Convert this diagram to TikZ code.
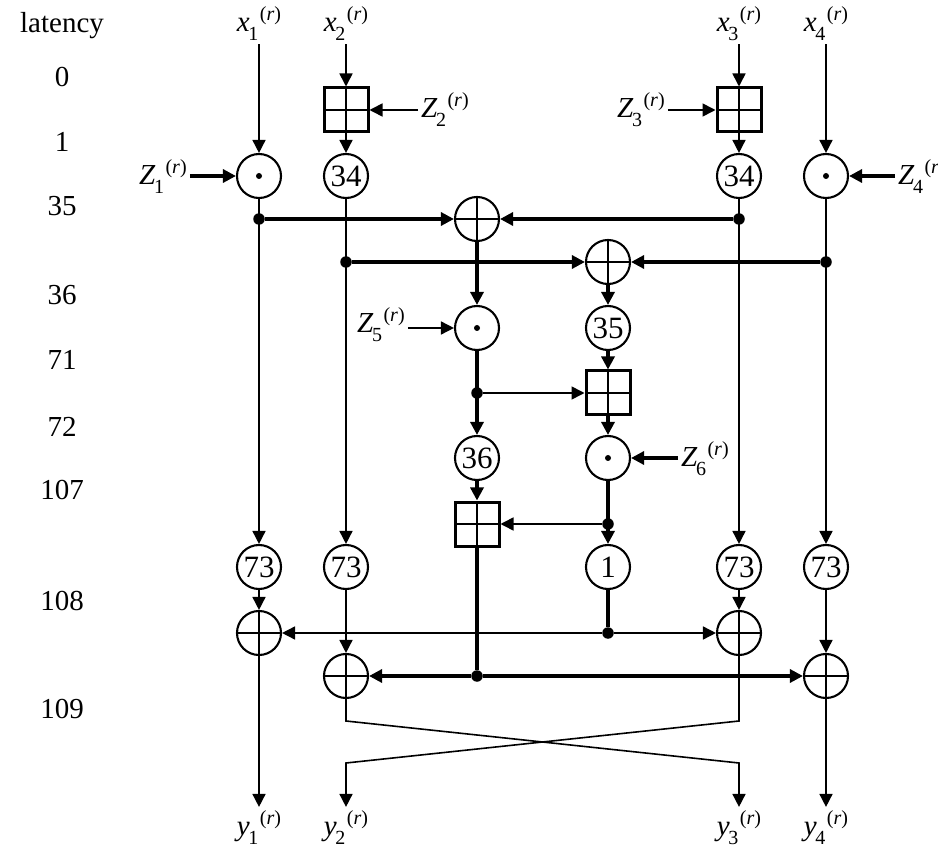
\documentclass[tikz,border=0pt]{standalone}
\usepackage{fontspec}
\setmainfont{Liberation Serif}
\usetikzlibrary{arrows.meta}
\newcommand\idx[2]{\textit{#1}\kern-1.5pt\raisebox{-9pt}{\fontsize{20}{20}\selectfont #2}\kern1.5pt\raisebox{11pt}{\fontsize{20}{20}\selectfont(\textit{r})}}
\begin{document}
\begin{tikzpicture}[x=1pt,y=-1pt,
  font=\fontsize{29}{32}\selectfont,
  thinl/.style={line width=1.6pt},
  thickl/.style={line width=3.2pt},
  arr/.style={-{Triangle[length=13pt,width=13pt]}},
  rnd/.style={circle,draw,line width=2.1pt,minimum size=44pt,inner sep=0pt},
  mul/.style={rnd,path picture={\fill (path picture bounding box.center) circle (3pt);}},
  add/.style={rnd,path picture={\draw[line width=2pt] (path picture bounding box.north) -- (path picture bounding box.south) (path picture bounding box.west) -- (path picture bounding box.east);}},
  dly/.style={rnd,font=\fontsize{31}{31}\selectfont},
  sq/.style={rectangle,draw,line width=3pt,minimum size=44pt,inner sep=0pt,path picture={\draw[line width=1.7pt] (path picture bounding box.north) -- (path picture bounding box.south) (path picture bounding box.west) -- (path picture bounding box.east);}},
  dot/.style={circle,fill,inner sep=0pt,minimum size=11.5pt},
  lab/.style={anchor=base,inner sep=3pt},
  zlab/.style={anchor=base west,inner sep=3pt},
]
\clip (0,0) rectangle (938,850);
\fill[white] (0,0) rectangle (938,850);
% latency column
\node[lab] (lt) at (62,33) {latency};
\node[lab] (l0) at (62,87) {0};
\node[lab] (l1) at (62,152) {1};
\node[lab] (l35) at (62,216) {35};
\node[lab] (l36) at (62,305) {36};
\node[lab] (l71) at (62,370) {71};
\node[lab] (l72) at (62,437) {72};
\node[lab] (l107) at (62,500) {107};
\node[lab] (l108) at (62,610) {108};
\node[lab] (l109) at (62,718) {109};
% input labels
\node[lab] (x1) at (259,32) {\idx{x}{1}};
\node[lab] (x2) at (346,32) {\idx{x}{2}};
\node[lab] (x3) at (739,32) {\idx{x}{3}};
\node[lab] (x4) at (826,32) {\idx{x}{4}};
% output labels
\node[lab] (y1) at (259,835) {\idx{y}{1}};
\node[lab] (y2) at (346,835) {\idx{y}{2}};
\node[lab] (y3) at (739,835) {\idx{y}{3}};
\node[lab] (y4) at (826,835) {\idx{y}{4}};
% key labels
\node[zlab] (z1) at (136,185) {\idx{Z}{1}};
\node[zlab] (z2) at (418,118) {\idx{Z}{2}};
\node[zlab] (z3) at (614,118) {\idx{Z}{3}};
\node[zlab] (z4) at (895,185) {\idx{Z}{4}};
\node[zlab] (z5) at (354,333) {\idx{Z}{5}};
\node[zlab] (z6) at (678,467) {\idx{Z}{6}};
% operators
\node[mul] (m1) at (259,176) {};
\node[sq] (s2) at (346,110) {};
\node[dly] (d2) at (346,176) {34};
\node[sq] (s5) at (739,110) {};
\node[dly] (d5) at (739,176) {34};
\node[mul] (m6) at (826,176) {};
\node[dot] (j1) at (259,219) {};
\node[add] (a3) at (477,219) {};
\node[dot] (j5) at (739,219) {};
\node[dot] (j2) at (346,262) {};
\node[add] (a4) at (608,262) {};
\node[dot] (j6) at (826,262) {};
\node[mul] (m3) at (477,328) {};
\node[dly] (d4) at (608,328) {35};
\node[dot] (j3) at (477,393) {};
\node[sq] (s4) at (608,393) {};
\node[dly] (d3) at (477,458) {36};
\node[mul] (m4) at (608,458) {};
\node[sq] (s3) at (477,524) {};
\node[dot] (j4) at (608,524) {};
\node[dly] (e1) at (259,567) {73};
\node[dly] (e2) at (346,567) {73};
\node[dly] (e4) at (608,567) {1};
\node[dly] (e5) at (739,567) {73};
\node[dly] (e6) at (826,567) {73};
\node[add] (f1) at (259,633) {};
\node[dot] (k4) at (608,633) {};
\node[add] (f5) at (739,633) {};
\node[add] (g2) at (346,676) {};
\node[dot] (k3) at (477,676) {};
\node[add] (g6) at (826,676) {};
\coordinate (p2) at (346,721);
\coordinate (q5) at (739,763);
\coordinate (p5) at (739,721);
\coordinate (q2) at (346,763);
% inputs
\draw[thinl,arr] (x1.south -| m1) -- (m1);
\draw[thinl,arr] (x2.south -| s2) -- (s2);
\draw[thinl,arr] (s2) -- (d2);
\draw[thinl,arr] (x3.south -| s5) -- (s5);
\draw[thinl,arr] (s5) -- (d5);
\draw[thinl,arr] (x4.south -| m6) -- (m6);
% keys
\draw[thickl,arr] (z1.east |- m1) -- (m1);
\draw[thinl,arr] (z2.west |- s2) -- (s2);
\draw[thinl,arr] (z3.east |- s5) -- (s5);
\draw[thickl,arr] (z4.west |- m6) -- (m6);
\draw[thinl,arr] (z5.east |- m3) -- (m3);
\draw[thickl,arr] (z6.west |- m4) -- (m4);
% outer columns
\draw[thinl,arr] (m1) -- (e1);
\draw[thinl,arr] (d2) -- (e2);
\draw[thinl,arr] (d5) -- (e5);
\draw[thinl,arr] (m6) -- (e6);
% MA structure
\draw[thickl,arr] (j1) -- (a3);
\draw[thickl,arr] (j5) -- (a3);
\draw[thickl,arr] (j2) -- (a4);
\draw[thickl,arr] (j6) -- (a4);
\draw[thickl,arr] (a3) -- (m3);
\draw[thickl,arr] (a4) -- (d4);
\draw[thickl,arr] (d4) -- (s4);
\draw[thickl,arr] (m3) -- (d3);
\draw[thinl,arr] (j3) -- (s4);
\draw[thickl,arr] (s4) -- (m4);
\draw[thickl,arr] (d3) -- (s3);
\draw[thickl,arr] (m4) -- (e4);
\draw[thinl,arr] (j4) -- (s3);
\draw[thickl] (s3) -- (k3);
\draw[thickl] (e4) -- (k4);
% output combination
\draw[thinl,arr] (e1) -- (f1);
\draw[thinl,arr] (e2) -- (g2);
\draw[thinl,arr] (e5) -- (f5);
\draw[thinl,arr] (e6) -- (g6);
\draw[thinl,arr] (k4) -- (f1);
\draw[thinl,arr] (k4) -- (f5);
\draw[thickl,arr] (k3) -- (g2);
\draw[thickl,arr] (k3) -- (g6);
% outputs
\draw[thinl,arr] (f1) -- (y1.north -| f1);
\draw[thinl,arr] (g6) -- (y4.north -| g6);
\draw[thinl,arr] (g2) -- (p2) -- (q5) -- (y3.north -| q5);
\draw[thinl,arr] (f5) -- (p5) -- (q2) -- (y2.north -| q2);
\end{tikzpicture}
\end{document}
